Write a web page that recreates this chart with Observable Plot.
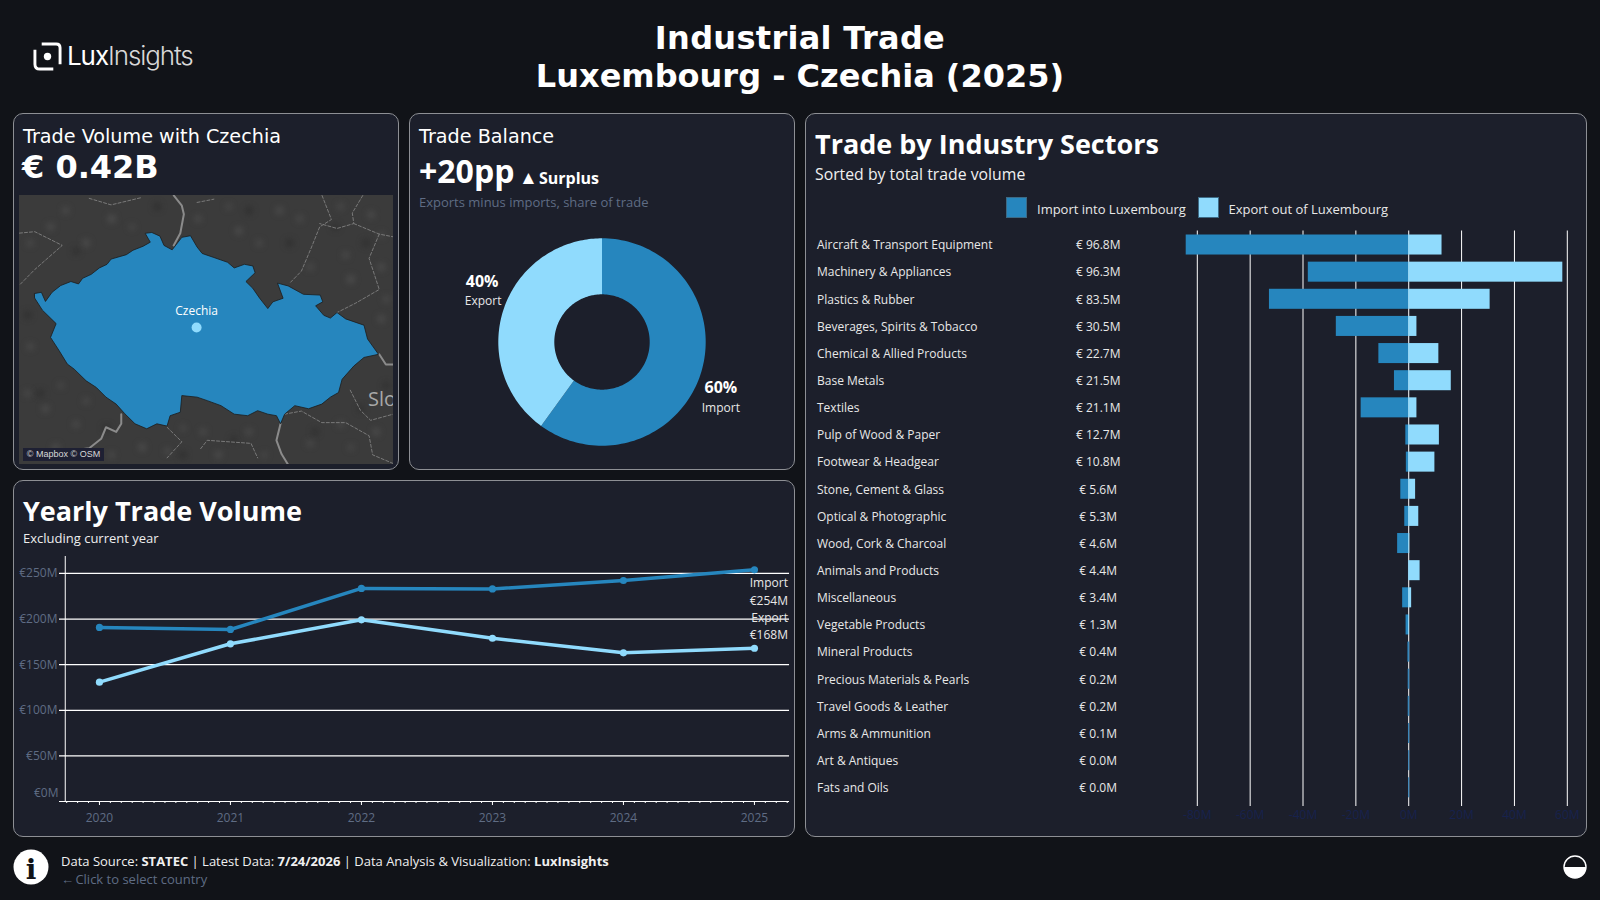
<!DOCTYPE html>
<html><head><meta charset="utf-8">
<script src="https://cdn.jsdelivr.net/npm/d3@7"></script>
<script src="https://cdn.jsdelivr.net/npm/@observablehq/plot@0.6"></script>
<style>
html,body{margin:0;padding:0;background:#111318;width:1600px;height:900px;overflow:hidden;font-family:"Open Sans",sans-serif;color:#fff}
.abs{position:absolute;white-space:nowrap;line-height:1}
.panel{position:absolute;box-sizing:border-box;background:#1c1f2b;border:1px solid #8d8f94;border-radius:10px}
.djv{font-family:"DejaVu Sans",sans-serif}
.plotbox{position:absolute}
.plotbox svg{display:block;background:transparent}
</style></head><body>
<div id="root"></div>
<script>
// ---------- data ----------
const years = [2020, 2021, 2022, 2023, 2024, 2025];
const importByYear = [190.8, 188.6, 233.6, 233, 242.3, 254];
const exportByYear = [130.8, 172.9, 199.2, 179, 163, 168];
const sectors = ["Aircraft & Transport Equipment","Machinery & Appliances","Plastics & Rubber","Beverages, Spirits & Tobacco","Chemical & Allied Products","Base Metals","Textiles","Pulp of Wood & Paper","Footwear & Headgear","Stone, Cement & Glass","Optical & Photographic","Wood, Cork & Charcoal","Animals and Products","Miscellaneous","Vegetable Products","Mineral Products","Precious Materials & Pearls","Travel Goods & Leather","Arms & Ammunition","Art & Antiques","Fats and Oils"];
const sectorImport = [84.2,38,52.7,27.4,11.3,5.4,18,1.1,0.9,3,1.5,4.2,0.1,2.3,1,0.3,0.2,0.2,0.1,0,0];
const sectorExport = [12.6,58.3,30.8,3.1,11.4,16.1,3.1,11.6,9.9,2.6,3.8,0.4,4.3,1.1,0.3,0.1,0,0,0,0,0];
const sectorTotals = ["€ 96.8M","€ 96.3M","€ 83.5M","€ 30.5M","€ 22.7M","€ 21.5M","€ 21.1M","€ 12.7M","€ 10.8M","€ 5.6M","€ 5.3M","€ 4.6M","€ 4.4M","€ 3.4M","€ 1.3M","€ 0.4M","€ 0.2M","€ 0.2M","€ 0.1M","€ 0.0M","€ 0.0M"];
const shareNames = ["Import","Export"];
const shareValues = [60,40];
const czechiaOutline = [[12.09,50.27],[12.22,50.285],[12.30,50.17],[12.43,50.285],[12.60,50.37],[12.80,50.42],[12.95,50.39],[13.03,50.46],[13.20,50.51],[13.36,50.59],[13.51,50.635],[13.59,50.70],[13.89,50.755],[14.02,50.81],[14.22,50.86],[14.36,50.91],[14.26,51.02],[14.39,51.03],[14.55,50.985],[14.63,50.87],[14.79,50.815],[14.98,50.97],[15.15,50.99],[15.28,50.85],[15.38,50.77],[15.61,50.72],[15.88,50.66],[16.01,50.59],[16.21,50.635],[16.375,50.615],[16.42,50.53],[16.24,50.42],[16.375,50.335],[16.51,50.21],[16.67,50.08],[16.77,50.165],[16.97,50.21],[16.86,50.40],[17.07,50.365],[17.37,50.26],[17.70,50.25],[17.75,50.165],[17.61,50.115],[17.77,49.995],[17.90,49.96],[18.03,50.03],[18.20,49.95],[18.56,49.87],[18.63,49.695],[18.845,49.50],[18.56,49.46],[18.36,49.35],[18.13,49.18],[18.06,49.01],[17.90,48.95],[17.73,48.86],[17.47,48.80],[17.20,48.84],[17.00,48.73],[16.92,48.605],[16.84,48.71],[16.67,48.73],[16.47,48.775],[16.275,48.71],[16.01,48.73],[15.75,48.84],[15.48,48.905],[15.28,48.95],[14.98,48.97],[14.95,48.755],[14.75,48.71],[14.69,48.575],[14.49,48.605],[14.29,48.54],[14.06,48.605],[13.86,48.735],[13.69,48.86],[13.49,48.95],[13.30,49.075],[13.10,49.16],[12.865,49.31],[12.73,49.375],[12.57,49.545],[12.40,49.715],[12.51,49.89],[12.24,50.06],[12.09,50.21]];
const countryBorders = [
 [[14.79,51.51],[14.98,51.36],[15.02,51.255],[14.95,51.02],[14.82,50.87]],
 [[13.79,48.73],[13.79,48.605],[13.69,48.50],[13.49,48.56],[13.395,48.41],[13.16,48.285],[12.865,48.26]],
 [[16.92,48.605],[16.84,48.39],[16.94,48.21],[17.07,48.07]],
 [[18.86,49.50],[18.99,49.37],[19.19,49.37]]
];
const regionBorders = [
 [[17.72,51.51],[17.92,51.19],[17.69,51.10],[17.53,50.85],[17.33,50.55],[17.10,50.40]],
 [[18.56,51.51],[18.33,51.27],[18.36,51.14],[18.03,51.08],[17.69,51.14]],
 [[18.36,51.14],[18.86,51.01],[19.19,50.97]],
 [[18.86,51.01],[18.66,50.71],[18.86,50.32],[18.40,50.15],[18.03,50.03]],
 [[11.75,51.02],[12.09,51.04],[12.63,50.87],[12.09,50.57],[11.75,50.35]],
 [[13.16,51.45],[13.59,51.37],[14.19,51.46]],
 [[15.28,51.40],[15.61,51.44]],
 [[17.00,48.73],[17.33,48.77],[17.73,48.62],[18.20,48.62],[18.66,48.45],[18.73,48.20],[19.19,48.07]],
 [[18.29,49.04],[18.49,48.78],[18.69,48.65],[19.19,48.74]],
 [[14.69,48.56],[14.98,48.37],[14.69,48.16]],
 [[15.35,48.28],[15.48,48.39],[16.34,48.35],[16.47,48.16]]
];
const lightPatches = [[13.1,50.9,14],[13.6,51.2,17],[12.4,51.1,13],[16.1,51.05,14],[16.9,51.3,13],[17.5,50.6,11],[18.3,50.45,16],[18.9,50.6,14],[18.7,51.25,13],[12.3,48.8,13],[12.9,48.6,11],[14.2,48.3,14],[15.7,48.2,13],[16.3,48.5,11],[18.1,48.6,10],[18.8,48.5,14],[13.6,48.2,10],[12.5,48.3,13],[12.0,50.9,10],[12.7,51.3,11],[14.0,51.1,8],[15.3,51.2,11],[15.9,51.35,8],[16.5,50.9,10],[17.3,51.2,10],[18.1,51.35,10],[18.9,51.0,8],[18.2,50.75,11],[18.9,49.95,13],[19.0,50.2,10],[12.0,49.6,11],[11.95,49.0,10],[12.6,49.1,8],[13.1,48.9,10],[15.0,48.55,8],[15.4,48.5,11],[17.5,48.35,10],[18.3,48.3,8],[16.6,48.2,8],[14.7,48.25,10]];
const darkPatches = [[14.5,51.35,14],[16.3,51.3,15],[17.1,50.9,14],[18.6,50.9,15],[12.9,50.8,12],[11.95,50.0,14],[12.2,49.0,14],[13.5,48.55,14],[15.0,48.2,14],[16.0,48.4,12],[17.6,48.5,12],[18.5,48.8,11],[19.0,49.1,11],[18.0,51.1,12]];
const mapFrame = [[11.79,51.46],[19.14,51.46],[19.14,48.1],[11.79,48.1]];
const capital = [{lon:15.27, lat:49.84, name:"Czechia"}];
const slovakiaLabel = [{lon:18.64, lat:48.92, name:"Slo"}];
const tradeTicks = [50,100,150,200,250];
const barTicks = [-80,-60,-40,-20,0,20,40,60];
const C_IMPORT = "#2686BE", C_EXPORT = "#90DBFD", MUTED = "#5F6C84";

// ---------- helpers ----------
const root = document.getElementById("root");
function el(html, css, cls){const d=document.createElement("div");d.className=cls||"abs";if(css)d.style.cssText=css;d.innerHTML=html;root.appendChild(d);return d;}
function plot(node,css){const d=document.createElement("div");d.className="plotbox";d.style.cssText=css;d.appendChild(node);root.appendChild(d);}

// ---------- panels ----------
el("", "left:13px;top:113px;width:386px;height:357px","panel");
el("", "left:409px;top:113px;width:386px;height:357px","panel");
el("", "left:13px;top:480px;width:782px;height:357px","panel");
el("", "left:805px;top:113px;width:782px;height:724px","panel");

// ---------- header ----------
el("Industrial Trade","left:0;width:1600px;text-align:center;top:20px;font:bold 32px 'DejaVu Sans';line-height:37px;letter-spacing:.3px");
el("Luxembourg - Czechia (2025)","left:0;width:1600px;text-align:center;top:58px;font:bold 32px 'DejaVu Sans';line-height:37px");
el(`<svg width="29" height="29" viewBox="0 0 30 30"><path d="M9 2H24Q28 2 28 6V23" fill="none" stroke="#fff" stroke-width="3"/><path d="M21 28H7Q2 28 2 23V8" fill="none" stroke="#fff" stroke-width="3"/><circle cx="15" cy="15" r="3.8" fill="#fff"/></svg>`,"left:33px;top:42px");
el(`<span style="font-weight:400">Lux</span><span style="font-weight:300;color:#d8d8d8">Insights</span>`,"left:67px;top:41px;font-family:Inter,sans-serif;font-size:26px;letter-spacing:-1.1px;line-height:30px");

// ---------- card 1 ----------
el("Trade Volume with Czechia","left:23px;top:127px;font-size:19.2px;line-height:20px","abs djv");
el("€ 0.42B","left:22px;top:149px;font-size:32px;font-weight:bold;line-height:37px","abs djv");

const proj = {type:"mercator", domain:{type:"MultiPoint", coordinates:mapFrame}};
const feature = {type:"Feature", geometry:{type:"Polygon", coordinates:[czechiaOutline.concat([czechiaOutline[0]])]}};
plot(Plot.plot({
  width:374, height:269, margin:0, projection:proj, style:{background:"#3b3b3b",overflow:"hidden"},
  marks:[
    Plot.dot(lightPatches,{x:d=>d[0],y:d=>d[1],r:d=>d[2],fill:"#5a5a5a",fillOpacity:.7,imageFilter:"blur(3px)"}),
    Plot.dot(darkPatches,{x:d=>d[0],y:d=>d[1],r:d=>d[2],fill:"#272727",fillOpacity:.7,imageFilter:"blur(3px)"}),
    Plot.geo({type:"MultiLineString",coordinates:regionBorders},{stroke:"#7a7a7a",strokeWidth:1,strokeDasharray:"3,2"}),
    Plot.geo({type:"MultiLineString",coordinates:countryBorders},{stroke:"#8b8b8b",strokeWidth:2}),
    Plot.text(slovakiaLabel,{x:"lon",y:"lat",text:"name",fill:"#a8a8a8",fontSize:20,textAnchor:"start",fontFamily:"Open Sans"}),
    Plot.geo(feature,{fill:C_IMPORT,stroke:"#1c1c1c",strokeWidth:.8}),
    Plot.dot(capital,{x:"lon",y:"lat",r:5,fill:C_EXPORT}),
    Plot.text(capital,{x:"lon",y:"lat",text:"name",fill:"#fff",fontSize:12,dy:-16,fontFamily:"Open Sans"})
  ]}),"left:19px;top:195px;width:374px;height:269px;overflow:hidden");
el("© Mapbox © OSM","left:23px;top:448px;width:81px;height:13px;background:#1e2033;color:#d8d8d8;font:9px/13px 'Liberation Sans';text-align:center");

// ---------- card 2 ----------
el("Trade Balance","left:419px;top:127px;font-size:19.2px;line-height:20px","abs djv");
el("+20pp","left:419px;top:152px;font-size:32px;font-weight:700;line-height:37px");
el(`<span style="font-size:19px">▲</span><span style="margin-left:-3px"> Surplus</span>`,"left:519px;top:167px;font-size:16px;font-weight:700;line-height:20px");
el("Exports minus imports, share of trade",`left:419px;top:194px;font-size:13px;line-height:16px;color:${MUTED}`);

let acc = 0;
const ring = [];
shareNames.forEach((name,i)=>{
  const a0=acc/100*2*Math.PI, a1=(acc+shareValues[i])/100*2*Math.PI; acc+=shareValues[i];
  d3.range(0,121).forEach(k=>{const a=a0+(a1-a0)*k/120; ring.push({name,sx:Math.sin(a),cy:Math.cos(a)});});
});
const innerR = 0.46;
let mid = 0;
const shareLabels = shareNames.map((name,i)=>{const a=(mid+shareValues[i]/2)/100*2*Math.PI; mid+=shareValues[i]; return {name,pct:shareValues[i]+"%",x:1.2*Math.sin(a),y:1.2*Math.cos(a)};});
plot(Plot.plot({
  width:386,height:236,margin:0,
  x:{domain:[-1,1],range:[89.3,296.7],axis:null},
  y:{domain:[-1,1],range:[220.7,13.3],axis:null},
  color:{domain:shareNames,range:[C_IMPORT,C_EXPORT]},
  marks:[
    Plot.area(ring,{x1:d=>innerR*d.sx,y1:d=>innerR*d.cy,x2:"sx",y2:"cy",fill:"name",z:"name",curve:"linear"}),
    Plot.text(shareLabels.filter(d=>d.name==="Import"),{x:"x",y:"y",text:"pct",dy:7,fontSize:16,fontWeight:700,fill:"#fff",fontFamily:"Open Sans"}),
    Plot.text(shareLabels.filter(d=>d.name==="Import"),{x:"x",y:"y",text:"name",dy:27,fontSize:12,fill:"#e8e8e8",fontFamily:"Open Sans"}),
    Plot.text(shareLabels.filter(d=>d.name==="Export"),{x:"x",y:"y",text:"pct",dx:-2,dy:-22,fontSize:16,fontWeight:700,fill:"#fff",fontFamily:"Open Sans"}),
    Plot.text(shareLabels.filter(d=>d.name==="Export"),{x:"x",y:"y",text:"name",dx:-1,dy:-3,fontSize:12,fill:"#e8e8e8",fontFamily:"Open Sans"})
  ]}),"left:409px;top:225px");

// ---------- card 3 : yearly ----------
el("Yearly Trade Volume","left:23px;top:493px;font-size:27px;font-weight:700;line-height:36px");
el("Excluding current year","left:23px;top:530px;font-size:13px;line-height:16px;color:#eee");
const yearly = years.flatMap((y,i)=>[{year:y,flow:"Import",v:importByYear[i]},{year:y,flow:"Export",v:exportByYear[i]}]);
const last = yearly.filter(d=>d.year===2025);
const months = d3.range(2019.75,2025.26,1/12);
plot(Plot.plot({
  width:782,height:297,marginTop:16,marginBottom:36,marginLeft:52,marginRight:6,
  x:{domain:[2019.695,2025.26],range:[46,775],axis:null},
  y:{domain:[0,268.6],axis:null},
  color:{domain:["Import","Export"],range:[C_IMPORT,C_EXPORT]},
  style:{fontFamily:"Open Sans",fontSize:"12px"},
  marks:[
    Plot.ruleY(tradeTicks,{stroke:"#fff",strokeWidth:1.2,x1:2019.695,x2:2025.268}),
    Plot.ruleX([2019.739],{y1:0,y2:268.6,stroke:"#fff",strokeWidth:1}),
    Plot.ruleY([0],{stroke:"#fff",strokeWidth:1,x1:2019.695,x2:2025.268}),
    Plot.axisX({ticks:months,tickSize:2,tickFormat:null,stroke:"#fff",tickPadding:0,text:null,label:null}),
    Plot.axisX({ticks:years,tickSize:4,tickFormat:"d",stroke:"#fff",color:MUTED,tickPadding:8,label:null}),
    Plot.axisY({ticks:tradeTicks,tickSize:0,tickPadding:8,tickFormat:d=>`€${d}M`,color:MUTED,label:null,anchor:"left"}),
    Plot.text([0],{frameAnchor:"left",y:0,text:()=>"€0M",dx:-7,dy:-8,textAnchor:"end",fill:MUTED}),
    Plot.line(yearly,{x:"year",y:"v",stroke:"flow",strokeWidth:3.5,curve:"linear"}),
    Plot.dot(yearly,{x:"year",y:"v",fill:"flow",r:3.6}),
    Plot.text(last,{x:"year",y:"v",text:d=>`${d.flow}\n€${Math.round(d.v)}M`,dx:33.5,textAnchor:"end",lineAnchor:"top",fontSize:12,lineHeight:1.45,fill:"#e8e8e8",filter:d=>d.flow==="Import",dy:5}),
    Plot.text(last,{x:"year",y:"v",text:d=>`${d.flow}\n€${Math.round(d.v)}M`,dx:33.5,textAnchor:"end",lineAnchor:"top",fontSize:12,lineHeight:1.45,fill:"#e8e8e8",filter:d=>d.flow==="Export",dy:-39})
  ]}),"left:13px;top:540px");

// ---------- card 4 : sectors ----------
el("Trade by Industry Sectors","left:815px;top:125px;font-size:27px;font-weight:700;line-height:38px");
el("Sorted by total trade volume","left:815px;top:165px;font-size:15.8px;line-height:18px;color:#f0f0f0");
el("",`left:1006px;top:197px;width:21px;height:21px;box-sizing:border-box;border:1px solid #3d6a85;background:${C_IMPORT}`);
el("Import into Luxembourg","left:1037px;top:201px;font-size:13px;line-height:16px;color:#e8e8e8");
el("",`left:1198px;top:197px;width:21px;height:21px;box-sizing:border-box;border:1px solid #3d6a85;background:${C_EXPORT}`);
el("Export out of Luxembourg","left:1228.5px;top:201px;font-size:13px;line-height:16px;color:#e8e8e8");
const rows = sectors.map((s,i)=>({s,imp:-sectorImport[i],exp:sectorExport[i],total:sectorTotals[i]}));
plot(Plot.plot({
  width:782,height:724,marginTop:117.5,marginBottom:31,marginLeft:11.5,marginRight:10,
  x:{domain:[-80,60],range:[391.8,761.8],axis:null},
  y:{domain:sectors,axis:null,paddingInner:.262,paddingOuter:.234,align:.315,round:false},
  style:{fontFamily:"Open Sans"},
  marks:[
    Plot.gridX(barTicks,{stroke:"#fff",strokeOpacity:1,strokeWidth:1}),
    Plot.barX(rows,{x1:0,x2:"imp",y:"s",fill:C_IMPORT}),
    Plot.barX(rows,{x1:0,x2:"exp",y:"s",fill:C_EXPORT}),
    Plot.tickX(rows.slice(15),{x:0,y:"s",stroke:"#1f78b4",strokeWidth:1}),
    Plot.axisX({ticks:barTicks,tickSize:0,tickPadding:4,tickFormat:d=>`${d}M`,color:"#17224d",fontSize:12,label:null,anchor:"bottom"}),
    Plot.text(rows,{frameAnchor:"left",y:"s",text:"s",dy:.5,textAnchor:"start",fontSize:12,fill:"#e8e8e8"}),
    Plot.text(rows,{frameAnchor:"left",y:"s",text:"total",dy:.5,dx:281.2,textAnchor:"middle",fontSize:12,fill:"#e8e8e8"})
  ]}),"left:805px;top:113px");

// ---------- footer ----------
el(`<svg width="36" height="36" viewBox="0 0 36 36"><circle cx="18" cy="18" r="17.5" fill="#fff"/><text x="18" y="30" text-anchor="middle" font-family="DejaVu Serif" font-weight="bold" font-size="28" fill="#111318">i</text></svg>`,"left:13px;top:849px");
el(`Data Source: <b>STATEC</b> | Latest Data: <b>7/24/2026</b> | Data Analysis &amp; Visualization: <b>LuxInsights</b>`,"left:61px;top:853px;font-size:13px;line-height:16px;color:#f0f0f0");
el(`←<span style="margin-left:-2px"> Click to select country</span>`,`left:61px;top:871px;font-size:13px;line-height:16px;color:${MUTED}`);
el(`<svg width="24" height="24" viewBox="0 0 24 24"><circle cx="12" cy="12" r="11" fill="#fff"/><path d="M1 12A11 11 0 0 1 23 12Z" fill="#111318"/><circle cx="12" cy="12" r="11" fill="none" stroke="#fff" stroke-width="1.4"/></svg>`,"left:1563px;top:855px");
</script>
</body></html>
